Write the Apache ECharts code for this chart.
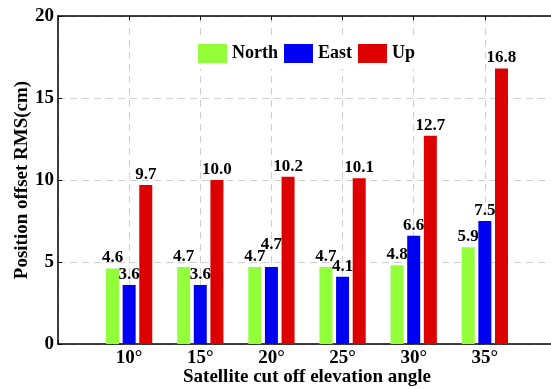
<!DOCTYPE html>
<html>
<head>
<meta charset="utf-8">
<script src="https://cdn.jsdelivr.net/npm/echarts@6/dist/echarts.min.js"></script>
<style>
  html, body { margin: 0; padding: 0; background: #fff; overflow: hidden; }
  #chart { width: 551px; height: 389px; }
</style>
</head>
<body>
<div id="chart"></div>
<script>
// Cut-off elevation angles and the RMS of the position offset per component (cm)
const categories = ['10°', '15°', '20°', '25°', '30°', '35°'];
const north = [4.6, 4.7, 4.7, 4.7, 4.8, 5.9];
const east = [3.6, 3.6, 4.7, 4.1, 6.6, 7.5];
const up = [9.7, 10.0, 10.2, 10.1, 12.7, 16.8];
const yTicks = [0, 5, 10, 15, 20];

const FONT = '"Liberation Serif", "Times New Roman", serif';

// The axis runs from 5° to 40°; the end slots carry no bars.
const axisData = [''].concat(categories, ['']);
const pad = arr => ['-'].concat(arr, ['-']);

function barSeries(name, values, color, tweak) {
  return {
    name: name,
    type: 'bar',
    barWidth: 13,
    barGap: '28%',
    data: pad(values).map((v, i) => {
      const item = { value: v };
      if (tweak && tweak[i]) item.label = tweak[i];
      return item;
    }),
    itemStyle: { color: color },
    label: {
      show: true,
      position: 'top',
      distance: 2,
      fontFamily: FONT,
      fontWeight: 'bold',
      fontSize: 17,
      color: '#000',
      formatter: p => Number(p.value).toFixed(1)
    }
  };
}

const chart = echarts.init(document.getElementById('chart'), null, { renderer: 'canvas' });
chart.setOption({
  animation: false,
  backgroundColor: '#fff',
  // the plot box runs a few pixels past the right edge of the canvas
  grid: { left: 58, width: 498, top: 16, bottom: 45, outerBoundsMode: 'none', containLabel: false },
  legend: {
    left: 194,
    top: 38,
    padding: [6, 4, 6, 4],
    backgroundColor: '#fff',
    itemWidth: 29,
    itemHeight: 19,
    itemGap: 6,
    icon: 'rect',
    textStyle: { fontFamily: FONT, fontWeight: 'bold', fontSize: 18, color: '#000' },
    data: ['North', 'East', 'Up']
  },
  xAxis: [
    {
      type: 'category',
      data: axisData,
      boundaryGap: false,
      position: 'bottom',
      name: 'Satellite cut off elevation angle',
      nameLocation: 'middle',
      nameMoveOverlap: false,
      nameGap: 24,
      nameTextStyle: {
        fontFamily: FONT, fontWeight: 'bold', fontSize: 19, color: '#000',
        verticalAlign: 'top'
      },
      axisLine: { show: true, lineStyle: { color: '#000', width: 1.5 } },
      axisTick: { show: true, inside: true, length: 4, lineStyle: { color: '#000' } },
      axisLabel: {
        interval: 0, margin: 5,
        fontFamily: FONT, fontWeight: 'bold', fontSize: 19, color: '#000'
      },
      splitLine: { show: true, lineStyle: { color: '#cfcfcf', type: [7, 5], width: 1 } }
    },
    {
      type: 'category',
      data: axisData,
      boundaryGap: false,
      position: 'top',
      axisLine: { show: true, lineStyle: { color: '#000', width: 1.5 } },
      axisTick: { show: true, inside: true, length: 4, lineStyle: { color: '#000' } },
      axisLabel: { show: false },
      splitLine: { show: false }
    }
  ],
  yAxis: {
    type: 'value',
    min: yTicks[0],
    max: yTicks[yTicks.length - 1],
    interval: 5,
    name: 'Position offset RMS(cm)',
    nameLocation: 'middle',
    nameMoveOverlap: false,
    nameGap: 26,
    nameRotate: 90,
    nameTextStyle: { fontFamily: FONT, fontWeight: 'bold', fontSize: 19, color: '#000' },
    axisLine: { show: true, lineStyle: { color: '#000', width: 1.5 } },
    axisTick: { show: true, inside: true, length: 4, lineStyle: { color: '#000' } },
    axisLabel: { margin: 4, fontFamily: FONT, fontWeight: 'bold', fontSize: 19, color: '#000' },
    splitLine: { show: true, lineStyle: { color: '#cfcfcf', type: [7, 5], width: 1 } }
  },
  series: [
    barSeries('North', north, '#92ff3a'),
    // the 20° East label sits a little higher so it clears the North label
    barSeries('East', east, '#0000f5', { 3: { offset: [0, -12] } }),
    barSeries('Up', up, '#dd0000')
  ]
});
</script>
</body>
</html>
